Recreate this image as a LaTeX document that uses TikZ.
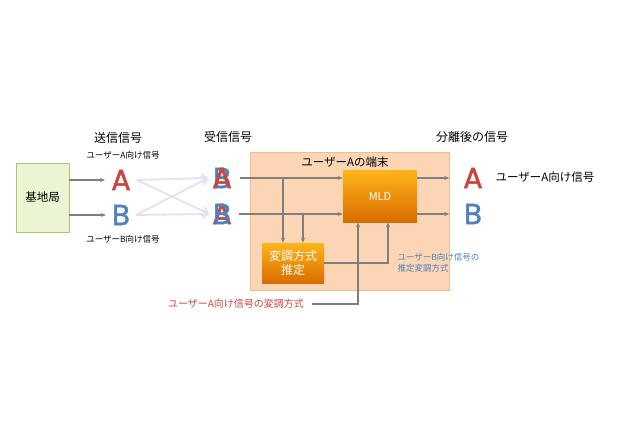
\documentclass[tikz,border=0pt]{standalone}
\usepackage{fontspec}
\setmainfont{Noto Sans CJK JP}
\newfontfamily\letterfont{Poppins}[FakeBold=1.6]
\usepackage{tikz}
\usetikzlibrary{arrows.meta}
\definecolor{sigred}{HTML}{C9453F}
\definecolor{sigblue}{HTML}{4F81BD}
\definecolor{bsfill}{HTML}{EBF5D3}
\definecolor{bsline}{HTML}{A9C86E}
\definecolor{termfill}{HTML}{FCD5B5}
\definecolor{termline}{HTML}{F6BB8C}
\definecolor{lineg}{HTML}{7F7F7F}
\definecolor{crossc}{HTML}{E4E0F0}

\begin{document}
\begin{tikzpicture}[x=1pt, y=-1pt,
    bigA/.style={inner sep=0pt, text=sigred, font=\letterfont\fontsize{29}{29}\selectfont},
    bigB/.style={inner sep=0pt, text=sigblue, font=\letterfont\fontsize{29}{29}\selectfont},
    heading/.style={font=\fontsize{12}{12}\selectfont},
    smalltag/.style={font=\fontsize{8.5}{8.5}\selectfont},
    orangebox/.style={draw=none, top color=orange!65!yellow!90, bottom color=orange!85!black, text=white},
    arr/.style={draw=lineg, line width=1.1pt, -{Stealth[length=5pt, width=4pt]}},
    crossarr/.style={draw=crossc, line width=1.8pt, -{Straight Barb[length=5pt, width=9pt]}}]

    \useasboundingbox (0,0) rectangle (640,426);

    % Nodes
    \node (bs) at (42.5,197.5) [draw=bsline, fill=bsfill, minimum width=53pt, minimum height=69pt, font=\fontsize{11.5}{11.5}\selectfont] {基地局};
    \node (txhead) at (118,138) [heading] {送信信号};
    \node (rxhead) at (228,137) [heading] {受信信号};
    \node (outhead) at (472,137) [heading] {分離後の信号};
    \node (tagA) at (123,155) [smalltag] {ユーザーA向け信号};
    \node (tagB) at (123,239) [smalltag] {ユーザーB向け信号};
    \node (txA) at (121,180) [bigA] {A};
    \node (txB) at (121,215) [bigB] {B};

    \node (term) at (349.5,221) [draw=termline, fill=termfill, minimum width=199pt, minimum height=138pt] {};
    \node (termtitle) at (345,162) [font=\fontsize{11.5}{11.5}\selectfont] {ユーザーAの端末};
    \node (mld) at (380,196) [orangebox, minimum width=74pt, minimum height=52pt, font=\fontsize{11}{11}\selectfont] {MLD};
    \node (est) at (293,263) [orangebox, minimum width=62pt, minimum height=40pt, align=center, font=\fontsize{12}{14}\selectfont] {変調方式\\推定};

    \node (rxAlow) at (222,178) [bigB] {B};
    \node (rxA) at (222,178) [bigA] {A};
    \node (rxBlow) at (222,214) [bigA] {A};
    \node (rxB) at (222,214) [bigB] {B};

    \node (outA) at (473,178) [bigA] {A};
    \node (outB) at (473,214) [bigB] {B};
    \node (outtag) at (545,177) [font=\fontsize{11.5}{11.5}\selectfont] {ユーザーA向け信号};

    \node (modA) at (236,304) [text=sigred, font=\fontsize{10}{10}\selectfont] {ユーザーA向け信号の変調方式};
    \node (modB) at (394,263) [anchor=west, text=sigblue, align=left, font=\fontsize{8.5}{10.5}\selectfont] {ユーザーB向け信号の\\推定変調方式};

    % Arrows
    \foreach \t in {txA, txB} {
        \draw[arr] (bs.east |- \t) -- ([xshift=-6pt]\t.west);
    }
    \foreach \i/\j in {txA/rxA, txB/rxB, txA/rxB, txB/rxA} {
        \draw[crossarr] ([xshift=6pt]\i.east) -- ([xshift=-4pt]\j.west);
    }
    \foreach \r in {rxA, rxB} {
        \draw[arr] ([xshift=8pt]\r.east) -- (mld.west |- \r);
    }
    \draw[arr] ([xshift=-10pt]est.north |- rxA) -- ([xshift=-10pt]est.north);
    \draw[arr] ([xshift=10pt]est.north |- rxB) -- ([xshift=10pt]est.north);
    \draw[arr] (est.east) -| ([xshift=8pt]mld.south);
    \draw[arr] ([xshift=5pt]modA.east) -| ([xshift=-22pt]mld.south);
    \foreach \o in {outA, outB} {
        \draw[arr] (mld.east |- \o) -- (term.east |- \o);
    }

\end{tikzpicture}
\end{document}
